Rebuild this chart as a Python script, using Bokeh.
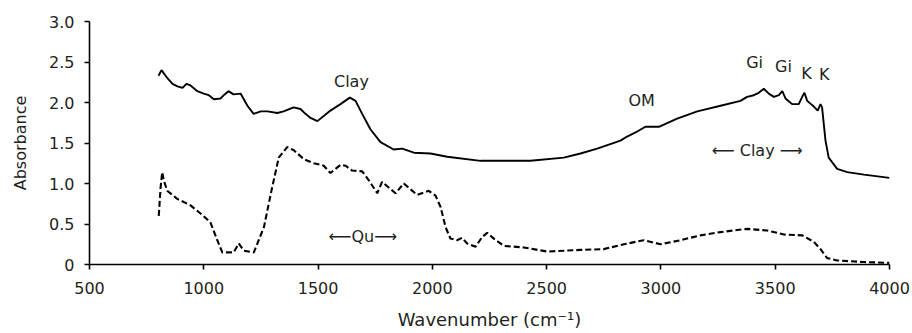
from bokeh.plotting import figure
from bokeh.models import Range1d, FixedTicker, NumeralTickFormatter, ColumnDataSource
from bokeh.core.properties import value
from bokeh.embed import file_html
from bokeh.resources import INLINE

# Upper (solid) spectrum
solid_x = [802, 815, 841, 863, 885, 907, 924, 942, 972, 1000, 1022, 1044, 1073, 1091, 1108,
           1130, 1161, 1191, 1218, 1249, 1279, 1322, 1349, 1393, 1423, 1445, 1467, 1497, 1554,
           1598, 1639, 1664, 1693, 1729, 1773, 1831, 1868, 1919, 1992, 2065, 2211, 2313, 2429,
           2575, 2648, 2721, 2823, 2852, 2889, 2932, 2991, 3071, 3159, 3261, 3348, 3377, 3406,
           3428, 3450, 3472, 3494, 3516, 3531, 3545, 3574, 3603, 3618, 3628, 3640, 3669, 3686,
           3698, 3705, 3720, 3734, 3771, 3815, 3888, 4000]
solid_y = [2.33, 2.40, 2.30, 2.23, 2.20, 2.18, 2.23, 2.21, 2.14, 2.11, 2.09, 2.04, 2.05, 2.10, 2.14,
           2.10, 2.11, 1.96, 1.86, 1.89, 1.89, 1.87, 1.89, 1.94, 1.92, 1.86, 1.81, 1.77, 1.90,
           1.98, 2.06, 2.02, 1.86, 1.67, 1.51, 1.42, 1.43, 1.38, 1.37, 1.33, 1.28, 1.28, 1.28,
           1.32, 1.37, 1.43, 1.53, 1.58, 1.63, 1.70, 1.70, 1.80, 1.89, 1.96, 2.02, 2.07, 2.09,
           2.12, 2.17, 2.11, 2.07, 2.09, 2.14, 2.05, 1.98, 1.98, 2.07, 2.12, 2.02, 1.95, 1.90,
           1.98, 1.94, 1.53, 1.32, 1.18, 1.14, 1.11, 1.07]

# Lower (dashed) spectrum
dashed_x = [803, 811, 818, 825, 840, 884, 942, 986, 1029, 1059, 1081, 1131, 1153, 1175, 1219,
            1263, 1299, 1328, 1365, 1394, 1438, 1481, 1525, 1554, 1598, 1620, 1649, 1693, 1722,
            1759, 1780, 1809, 1839, 1875, 1904, 1933, 1984, 2014, 2036, 2058, 2079, 2108, 2130,
            2152, 2189, 2218, 2240, 2269, 2313, 2400, 2502, 2648, 2750, 2838, 2925, 2998, 3086,
            3173, 3261, 3377, 3465, 3538, 3618, 3669, 3698, 3727, 3771, 3888, 4000]
dashed_y = [0.60, 0.95, 1.14, 1.04, 0.91, 0.81, 0.73, 0.63, 0.52, 0.30, 0.15, 0.15, 0.26, 0.17, 0.15,
            0.46, 0.95, 1.32, 1.45, 1.41, 1.30, 1.25, 1.22, 1.13, 1.23, 1.22, 1.16, 1.15, 1.04,
            0.88, 1.02, 0.95, 0.88, 1.00, 0.93, 0.86, 0.91, 0.85, 0.71, 0.46, 0.32, 0.30, 0.33,
            0.26, 0.22, 0.34, 0.39, 0.32, 0.23, 0.21, 0.16, 0.18, 0.19, 0.25, 0.30, 0.25, 0.30,
            0.36, 0.40, 0.44, 0.42, 0.37, 0.36, 0.28, 0.19, 0.08, 0.05, 0.03, 0.02]

# Annotations
ann_text = ["Clay", "OM", "Gi", "Gi", "K", "K", "\u27f5 Clay \u27f6", "\u27f5Qu\u27f6"]
ann_x = [1646, 2916, 3410, 3536, 3637, 3714, 3421, 1696]
ann_y = [2.26, 2.02, 2.49, 2.45, 2.36, 2.35, 1.41, 0.34]

x_ticks = [500, 1000, 1500, 2000, 2500, 3000, 3500, 4000]
y_ticks = [0, 0.5, 1.0, 1.5, 2.0, 2.5, 3.0]

TXT = "#231f20"
FONT = "DejaVu Sans"

p = figure(width=912, height=333, x_range=Range1d(500, 4000), y_range=Range1d(0, 3),
           output_backend="svg", toolbar_location=None,
           min_border_left=89, min_border_right=23, min_border_top=21, min_border_bottom=69)
p.outline_line_color = None
p.xgrid.visible = False
p.ygrid.visible = False
p.background_fill_color = "white"
p.border_fill_color = "white"

p.line(solid_x, solid_y, line_color="black", line_width=1.9)
p.line(dashed_x, dashed_y, line_color="black", line_width=2.1, line_dash="6 3")

src = ColumnDataSource(dict(x=ann_x, y=ann_y, t=ann_text))
p.text(x="x", y="y", text="t", source=src, text_font=value(FONT), text_font_size="16px",
       text_color=TXT, text_align="center", text_baseline="alphabetic")

for ax in (p.xaxis[0], p.yaxis[0]):
    ax.axis_line_width = 1.6
    ax.axis_line_color = "black"
    ax.major_tick_line_width = 1.6
    ax.major_tick_line_color = "black"
    ax.major_tick_out = 5
    ax.major_tick_in = 0
    ax.minor_tick_line_color = None
    ax.major_label_text_font = FONT
    ax.major_label_text_font_size = "16px"
    ax.major_label_text_color = TXT
    ax.axis_label_text_font = FONT
    ax.axis_label_text_font_style = "normal"
    ax.axis_label_text_color = TXT

p.xaxis.ticker = FixedTicker(ticks=x_ticks)
p.yaxis.ticker = FixedTicker(ticks=y_ticks)
p.yaxis.formatter = NumeralTickFormatter(format="0.0")
p.yaxis.major_label_overrides = {0: "0"}
p.xaxis.major_label_standoff = 12
p.yaxis.major_label_standoff = 10
p.xaxis.axis_label = "Wavenumber (cm\u207b\u00b9)"
p.yaxis.axis_label = "Absorbance"
p.xaxis.axis_label_text_font_size = "18px"
p.yaxis.axis_label_text_font_size = "16px"
p.xaxis.axis_label_standoff = 12
p.yaxis.axis_label_standoff = 16

open("out.html", "w").write(file_html(p, INLINE))
